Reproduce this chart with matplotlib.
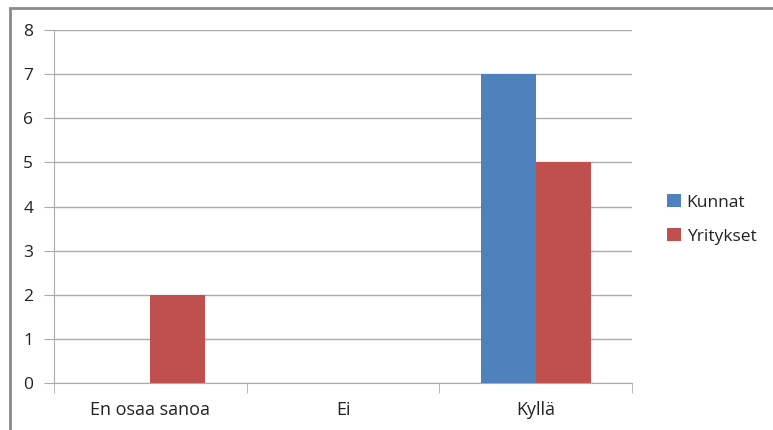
import numpy as np
import matplotlib.pyplot as plt
from matplotlib.patches import Rectangle

categories = ["En osaa sanoa", "Ei", "Kyllä"]
kunnat = [0, 0, 7]
yritykset = [2, 0, 5]

plt.rcParams['font.family'] = ['Open Sans', 'DejaVu Sans']

fig = plt.figure(figsize=(7.73, 4.30), dpi=100)
ax = fig.add_axes([54/773, 1 - 383/430, (632 - 54)/773, (383 - 30)/430])

# chart frame (cut off at right and bottom like the screenshot)
fig.patches.append(Rectangle((10/773, -0.1), 1.0, 1.1 - 8/430, transform=fig.transFigure,
                             fill=False, edgecolor='#8a8a8a', linewidth=2))

x = np.arange(len(categories))
w = 1 / 3.5
ax.bar(x - w/2, kunnat, w, color='#4F81BD', label='Kunnat')
ax.bar(x + w/2, yritykset, w, color='#C0504D', label='Yritykset')

ax.set_xlim(-0.5, 2.5)
ax.set_ylim(0, 8)
ax.set_yticks(range(9))
ax.yaxis.grid(True, color='#ababab', linewidth=1)
ax.set_axisbelow(True)
ax.tick_params(axis='y', length=7, color='#ababab', pad=8, labelsize=12.5, labelcolor='#222222')

ax.set_xticks(x)
ax.set_xticklabels(categories)
ax.set_xticks([-0.5, 0.5, 1.5, 2.5], minor=True)
ax.tick_params(axis='x', which='major', length=0, pad=13, labelsize=13, labelcolor='#222222')
ax.tick_params(axis='x', which='minor', length=7, color='#ababab')

for s in ['top', 'right']:
    ax.spines[s].set_visible(False)
for s in ['left', 'bottom']:
    ax.spines[s].set_color('#ababab')

ax.legend(loc='upper left', bbox_to_anchor=(1.033, 0.58), frameon=False,
          handlelength=0.8, handleheight=0.8, handletextpad=0.35,
          labelspacing=1.0, fontsize=12.5, labelcolor='#222222')

fig.savefig('out.png', dpi=100)
